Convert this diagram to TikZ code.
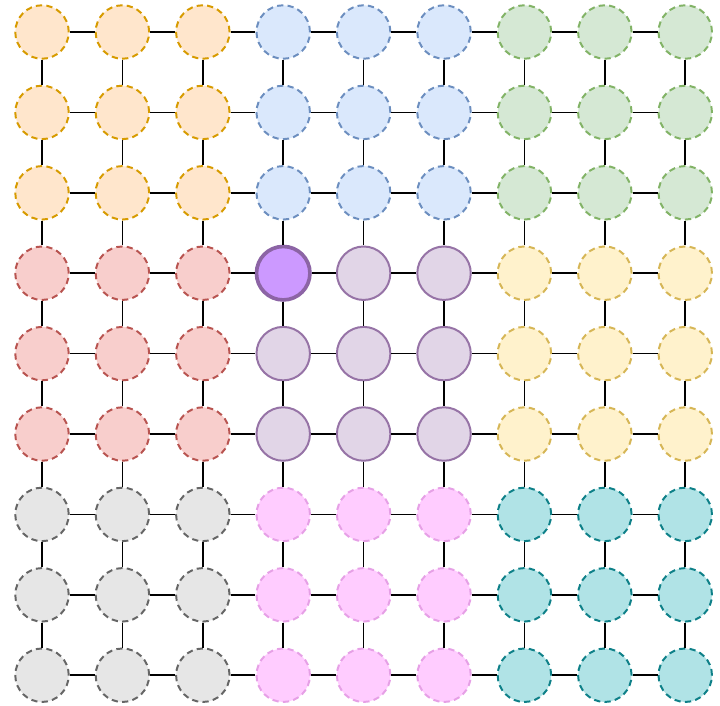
\documentclass[tikz,border=0pt]{standalone}
\begin{document}
\begin{tikzpicture}[x=1cm,y=1cm,
		cell/.style={circle, minimum size=1.33cm, inner sep=0pt, line width=1.4pt},
		loose/.style={cell, dash pattern=on 4.4pt off 3pt},
		link/.style={black, line width=1.2pt},
		blk00/.style={loose, fill=orfill, draw=ordraw},
		blk10/.style={loose, fill=blfill, draw=bldraw},
		blk20/.style={loose, fill=grfill, draw=grdraw},
		blk01/.style={loose, fill=rdfill, draw=rddraw},
		blk11/.style={cell, fill=pufill, draw=pudraw},
		blk21/.style={loose, fill=gefill, draw=gedraw},
		blk02/.style={loose, fill=gyfill, draw=gydraw},
		blk12/.style={loose, fill=pkfill, draw=pkdraw},
		blk22/.style={loose, fill=tufill, draw=tudraw},
		cell33/.style={fill=focus, draw=focusdraw, line width=2.6pt}]
	
	% Farben der Bloecke
	\definecolor{orfill}{RGB}{255,230,204}
	\definecolor{ordraw}{RGB}{215,155,0}
	\definecolor{blfill}{RGB}{218,232,252}
	\definecolor{bldraw}{RGB}{108,142,191}
	\definecolor{grfill}{RGB}{213,232,212}
	\definecolor{grdraw}{RGB}{130,179,102}
	\definecolor{rdfill}{RGB}{248,206,204}
	\definecolor{rddraw}{RGB}{184,84,80}
	\definecolor{pufill}{RGB}{225,213,231}
	\definecolor{pudraw}{RGB}{150,115,166}
	\definecolor{gefill}{RGB}{255,242,204}
	\definecolor{gedraw}{RGB}{214,182,86}
	\definecolor{gyfill}{RGB}{230,230,230}
	\definecolor{gydraw}{RGB}{102,102,102}
	\definecolor{pkfill}{RGB}{255,204,255}
	\definecolor{pkdraw}{RGB}{230,160,230}
	\definecolor{tufill}{RGB}{176,227,230}
	\definecolor{tudraw}{RGB}{14,128,136}
	\definecolor{focus}{RGB}{204,153,255}
	\definecolor{focusdraw}{RGB}{140,100,165}
	
	% Hintergrund
	\fill[white] (-1.045,0.796) rectangle (16.865,-16.744);
	\useasboundingbox (-1.045,0.796) rectangle (16.865,-16.744);
	
	% Knoten
	\foreach \x in {0,...,8} {
		\foreach \y in {0,...,8} {
			\pgfmathtruncatemacro{\bx}{\x/3}
			\pgfmathtruncatemacro{\by}{\y/3}
			\node[blk\bx\by, cell\x\y/.try] (n\x\y) at (2*\x,-2*\y) {};
		}
	}
	
	% Kanten
	\foreach \x [evaluate=\x as \nx using int(\x+1)] in {0,...,7} {
		\foreach \y in {0,...,8} {
			\draw[link] (n\x\y) -- (n\nx\y);
			\draw[link] (n\y\x) -- (n\y\nx);
		}
	}
	
\end{tikzpicture}
\end{document}
